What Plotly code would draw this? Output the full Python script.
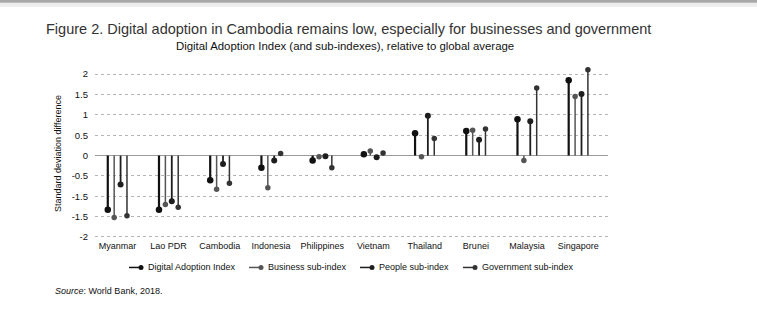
import plotly.graph_objects as go

countries = ["Myanmar", "Lao PDR", "Cambodia", "Indonesia", "Philippines",
             "Vietnam", "Thailand", "Brunei", "Malaysia", "Singapore"]
dai = [-1.33, -1.33, -0.61, -0.30, -0.12, 0.03, 0.55, 0.60, 0.89, 1.85]
business = [-1.52, -1.20, -0.83, -0.79, -0.03, 0.11, -0.03, 0.62, -0.12, 1.45]
people = [-0.71, -1.12, -0.21, -0.12, -0.02, -0.04, 0.98, 0.39, 0.84, 1.51]
government = [-1.48, -1.27, -0.68, 0.05, -0.30, 0.06, 0.42, 0.65, 1.66, 2.11]
y_tick_vals = [2, 1.5, 1, 0.5, 0, -0.5, -1, -1.5, -2]
y_tick_text = ["2", "1.5", "1", "0.5", "0", "-0.5", "-1.5", "-1.5", "-2"]

series = [
    ("Digital Adoption Index", dai, "#111111", 2.2, 6.5),
    ("Business sub-index", business, "#555555", 1.5, 5.5),
    ("People sub-index", people, "#1e1e1e", 1.8, 6),
    ("Government sub-index", government, "#333333", 1.5, 5.5),
]
offsets = [-0.1875, -0.0625, 0.0625, 0.1875]

W, H = 757, 327
L, R = 95, 608
T, B = 68, 238.6


def px(x):
    return (x - L) / (R - L)


def py(y):
    return (B - y) / (B - T)


fig = go.Figure()
FONT = "Liberation Sans, Arial, sans-serif"

for (name, vals, color, lw, ms), off in zip(series, offsets):
    xs, ys = [], []
    for i, v in enumerate(vals):
        xs += [i + off, i + off, None]
        ys += [0, v, None]
    fig.add_trace(go.Scatter(x=xs, y=ys, mode="lines", line=dict(color=color, width=lw),
                             showlegend=False, hoverinfo="skip", cliponaxis=False))
    fig.add_trace(go.Scatter(x=[i + off for i in range(len(vals))], y=vals, mode="markers",
                             marker=dict(color=color, size=ms), name=name, showlegend=False,
                             cliponaxis=False))

# top page border (shadow strip)
shapes = [
    dict(type="rect", xref="paper", yref="paper", x0=px(0), x1=px(W), y0=py(3), y1=py(7),
         fillcolor="#ececec", line=dict(width=0), layer="below"),
    dict(type="rect", xref="paper", yref="paper", x0=px(0), x1=px(W), y0=py(0), y1=py(3),
         fillcolor="#a8a8a8", line=dict(width=0), layer="below"),
]

# manual legend
legend_x = [129, 249, 360, 463]
annotations = []
for (name, vals, color, lw, ms), lx in zip(series, legend_x):
    shapes.append(dict(type="line", xref="paper", yref="paper", x0=px(lx), x1=px(lx + 12),
                       y0=py(267), y1=py(267), line=dict(color=color, width=1.5)))
    shapes.append(dict(type="circle", xref="paper", yref="paper",
                       x0=px(lx + 9.5), x1=px(lx + 14.5), y0=py(269.5), y1=py(264.5),
                       fillcolor=color, line=dict(width=0)))
    annotations.append(dict(xref="paper", yref="paper", x=px(lx + 17), y=py(267), text=name,
                            showarrow=False, font=dict(size=9, color="#111", family=FONT),
                            xanchor="left", yanchor="middle"))

annotations.append(dict(xref="paper", yref="paper", x=px(44), y=py(29),
                        text="Figure 2. Digital adoption in Cambodia remains low, especially for businesses and government",
                        showarrow=False, xanchor="left", yanchor="middle",
                        font=dict(size=14.5, color="#333", family=FONT)))
annotations.append(dict(xref="paper", yref="paper", x=px(344.5), y=py(46),
                        text="Digital Adoption Index (and sub-indexes), relative to global average",
                        showarrow=False, xanchor="center", yanchor="middle",
                        font=dict(size=11.4, color="#111", family=FONT)))
annotations.append(dict(xref="paper", yref="paper", x=px(53), y=py(290),
                        text="<i>Source</i>: World Bank, 2018.",
                        showarrow=False, xanchor="left", yanchor="middle",
                        font=dict(size=9, color="#111", family=FONT)))

fig.update_layout(
    width=W, height=H,
    margin=dict(l=L, r=W - R, t=T, b=H - B),
    paper_bgcolor="white", plot_bgcolor="white",
    shapes=shapes, annotations=annotations,
    font=dict(family=FONT, size=9, color="#111"),
    xaxis=dict(range=[-0.437, 9.58], tickvals=list(range(len(countries))), ticktext=countries,
               showgrid=False, zeroline=False, showline=False, ticks="",
               tickfont=dict(size=9, color="#111")),
    yaxis=dict(range=[-2.05, 2.15], tickvals=y_tick_vals, ticktext=y_tick_text,
               showgrid=True, gridcolor="#b5b5b5", griddash="dot", gridwidth=1,
               zeroline=True, zerolinecolor="#9a9a9a", zerolinewidth=1.2,
               showline=False, ticks="", ticklabelstandoff=6,
               tickfont=dict(size=9.5, color="#111"),
               title=dict(text="Standard deviation difference", font=dict(size=9, color="#111"),
                          standoff=8)),
)

fig.write_html("out.html")
